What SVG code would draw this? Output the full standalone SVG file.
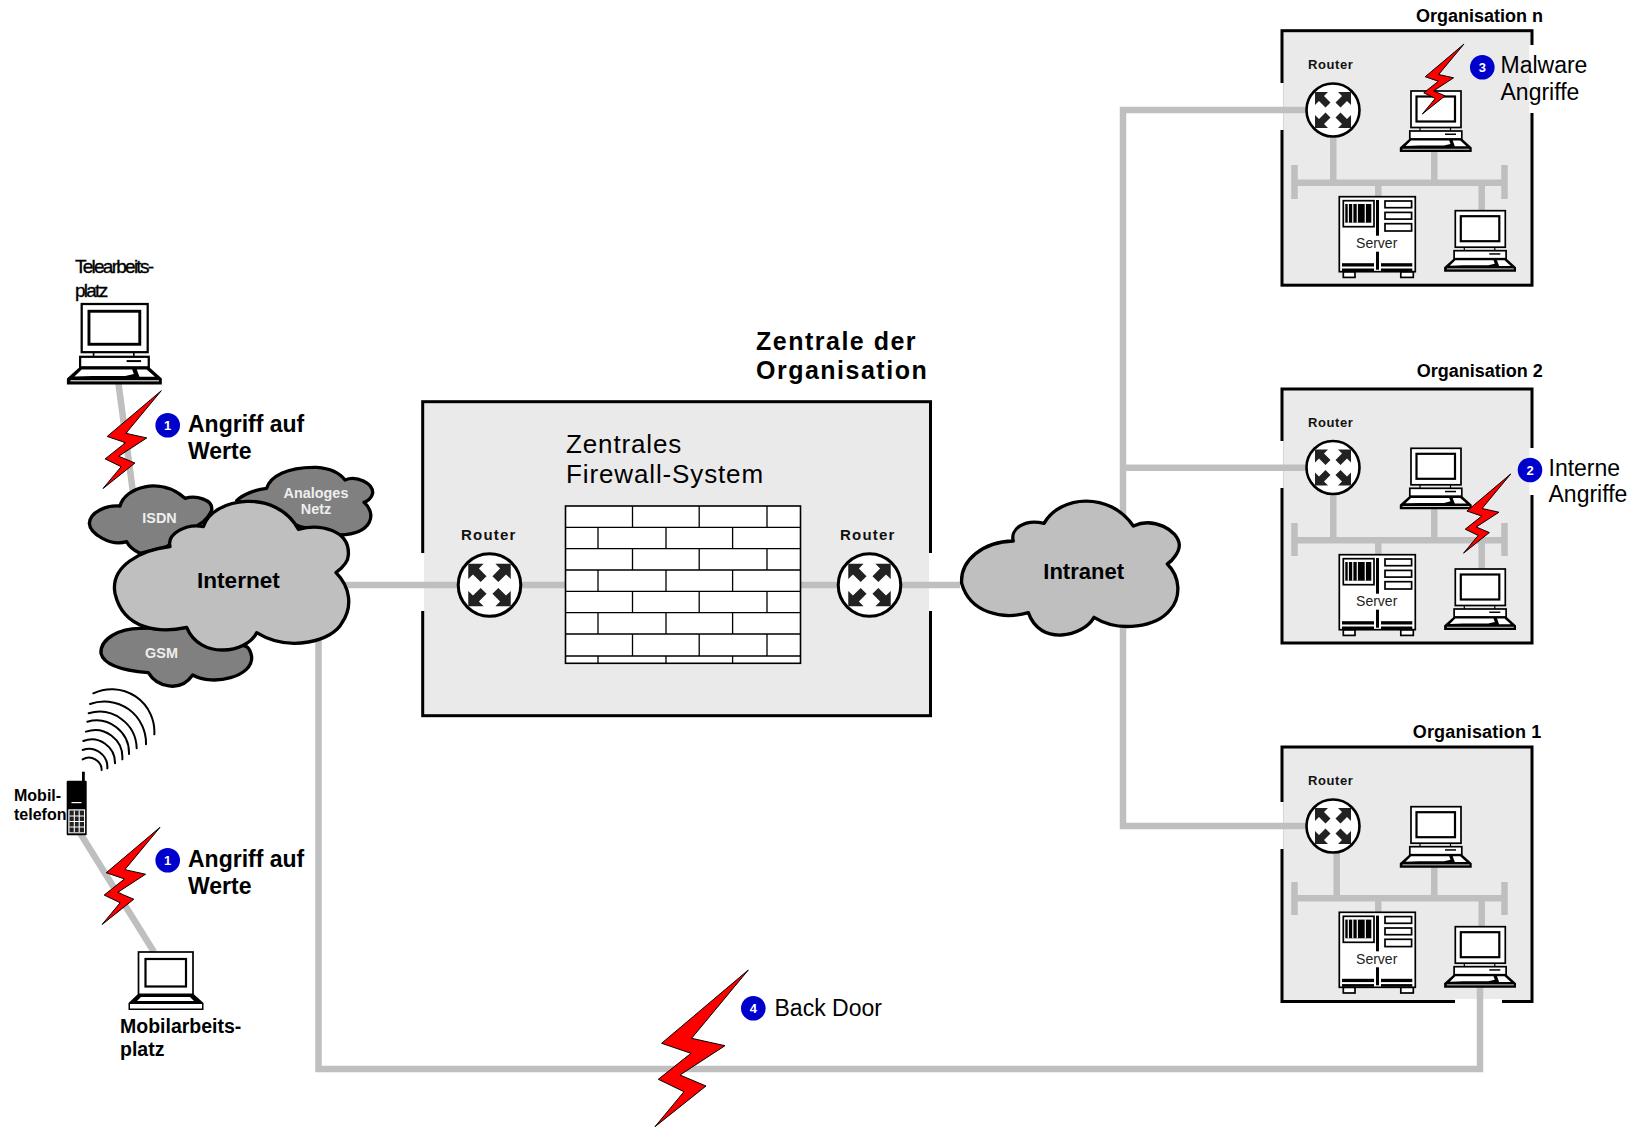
<svg xmlns="http://www.w3.org/2000/svg" xmlns:xlink="http://www.w3.org/1999/xlink" width="1634" height="1127" viewBox="0 0 1634 1127">
<style>
text{font-family:"Liberation Sans",Arial,sans-serif;fill:#000}
.b{font-weight:bold}
.atk{font-weight:bold;font-size:23px}
.reg{font-size:23px}
.org{font-weight:bold;font-size:18px}
.rt{font-weight:bold;font-size:13px;letter-spacing:.6px;fill:#111}
.rtc{font-weight:bold;font-size:15px;letter-spacing:1.2px;fill:#111}
.net{font-weight:bold;font-size:14.4px;fill:#eee;text-anchor:middle}
.srv{font-size:14px;text-anchor:middle;fill:#222}
.badge{font-weight:bold;font-size:13px;fill:#fff;text-anchor:middle}
.box{fill:#eaeaea;stroke:#000;stroke-width:3}
.gap{fill:#fff;stroke:none}
.lnk{fill:none;stroke:#bfbfbf;stroke-width:6.5}
.cl{fill:#bfbfbf;stroke:#000;stroke-width:10;stroke-linejoin:round}
.cd{fill:#808080;stroke:#000;stroke-width:10;stroke-linejoin:round}
.w{fill:#fff;stroke:#000;stroke-width:1.7}
.k{fill:#000;stroke:none}
.wh{fill:#fff;stroke:none}
.dot{fill:#0000cc}
.bolt{fill:#f00;stroke:#000;stroke-width:1;vector-effect:non-scaling-stroke;stroke-linejoin:miter}
.wave{fill:none;stroke:#000;stroke-width:6;stroke-linecap:round}
.brick{fill:none;stroke:#000;stroke-width:1.3}
</style>
<defs>
<polygon id="boltS" class="bolt" points="0,0 -56.7,68.3 -23.3,75.7 -68.3,105 -42.3,116 -93.3,156.7 -64.3,121.7 -90,109.3 -57.3,83.3 -86.7,73.3"/>
<g id="pc">
<rect class="w" x="0" y="0" width="50" height="36.5"/>
<rect class="w" x="5.5" y="5.5" width="38.5" height="25" style="stroke-width:2.2"/>
<path d="M9 36.5V40M39.5 36.5V40" stroke="#000" stroke-width="1.2"/>
<rect class="w" x="-1.2" y="40" width="52" height="8"/>
<rect class="k" x="34" y="42.5" width="11" height="1.5"/>
<polygon class="k" points="-1.2,47.5 50.8,47.5 60.7,56.5 60.7,61 -11.2,61 -11.2,56.5"/>
<polygon class="wh" points="0,49.6 38.2,49.6 39.5,53 33,54.6 8,54.6 -5.5,55"/>
<polygon class="wh" points="41.7,49.6 49.2,49.6 55.5,55.2 43.8,55.2"/>
<rect class="wh" x="-8.5" y="57.8" width="67" height=".8"/>
</g>
<g id="server">
<rect x="4" y="75" width="11.7" height="5.7" class="w"/><rect x="61.5" y="75" width="12.5" height="5.7" class="w"/>
<rect class="w" width="76" height="75"/>
<rect class="w" x="4" y="4" width="30.7" height="26"/>
<rect class="k" x="6" y="7.3" width="26" height="18.7"/>
<path d="M9 7V26M13.5 7V26M18 7V26M26 7V26" stroke="#fff" stroke-width="1.2"/>
<rect class="k" x="36.7" y="3.3" width="3" height="35.7"/><rect class="k" x="36.7" y="55" width="3" height="18"/>
<rect class="w" x="45.7" y="4.3" width="26.6" height="6.7"/><rect class="w" x="45.7" y="15.7" width="26.6" height="6.7"/><rect class="w" x="45.7" y="27" width="26.6" height="7.3"/>
<rect class="k" x="2.7" y="66.5" width="32" height="3.3"/><rect class="k" x="41.7" y="66.5" width="31.3" height="3.3"/>
<rect class="k" x="2.7" y="71.8" width="32" height="2.7"/><rect class="k" x="41.7" y="71.8" width="31.3" height="2.7"/>
</g>
<g id="router">
<circle r="26.5" fill="#fff" stroke="#000" stroke-width="2.6"/>
<g id="arr"><polygon fill="#222" points="-18,-18 -5,-18 -9,-14 -2.5,-7.5 -7.5,-2.5 -14,-9 -18,-5"/></g>
<use xlink:href="#arr" href="#arr" transform="scale(-1,1)"/>
<use xlink:href="#arr" href="#arr" transform="scale(1,-1)"/>
<use xlink:href="#arr" href="#arr" transform="scale(-1,-1)"/>
</g>
</defs>
<rect width="1634" height="1127" fill="#fff"/>

<g id="box-zentrale">
<rect class="box" x="422.7" y="401.7" width="507.8" height="314"/>
<rect class="gap" x="419" y="553" width="5.7" height="58"/>
<rect class="gap" x="929" y="553" width="5" height="58"/>
</g>
<g id="box-org-n">
<rect class="box" x="1282" y="30.7" width="250" height="254.5"/>
<rect class="gap" x="1279" y="83" width="4.7" height="47"/>
<rect class="gap" x="1529.3" y="45" width="8" height="68"/>
</g>
<g id="box-org-2">
<rect class="box" x="1282" y="389" width="250" height="254"/>
<rect class="gap" x="1279" y="441" width="4.7" height="47"/>
<rect class="gap" x="1529.3" y="448" width="6" height="47"/>
</g>
<g id="box-org-1">
<rect class="box" x="1282" y="747" width="250" height="254.5"/>
<rect class="gap" x="1279" y="802" width="4.7" height="47"/>
<rect class="gap" x="1455" y="999" width="47" height="6"/>
</g>

<g id="connectors">
<path class="lnk" d="M118 380L134 500"/>
<path class="lnk" d="M80 833L154 952"/>
<path class="lnk" d="M340 585H960"/>
<path class="lnk" d="M318.5 630V1069H1480V980"/>
<path class="lnk" d="M1330 110H1123V826H1330"/>
<path class="lnk" d="M1123 467.7H1330"/>
<g id="bus-org-n">
<path class="lnk" d="M1294.5 182.7H1504.5M1294.5 165V199M1504.5 165V199M1333.3 137V182.7M1434.3 150V182.7M1378.3 182.7V197M1481.7 182.7V211"/>
</g>
<g id="bus-org-2">
<path class="lnk" d="M1294.5 540.3H1504.5M1294.5 523V556M1504.5 523V556M1333.3 495V540.3M1434.3 508V540.3M1378.3 540.3V555M1481.7 540.3V569"/>
</g>
<g id="bus-org-1">
<path class="lnk" d="M1294.5 898.3H1504.5M1294.5 882V915M1504.5 882V915M1336.7 852V898.3M1434.3 866V898.3M1378.3 898.3V913M1481.7 898.3V927"/>
</g>
</g>

<g id="firewall">
<rect x="565.5" y="506" width="235" height="157.3" fill="#fff" stroke="#000" stroke-width="1.6"/>
<path class="brick" d="M565 527.3H801M565 548.6H801M565 570H801M565 591.3H801M565 612.7H801M565 634H801M565 656H801"/>
<path class="brick" d="M632.5 506V527.3M699.2 506V527.3M767 506V527.3M598 527.3V548.6M666 527.3V548.6M732.6 527.3V548.6M632.5 548.6V570M699.2 548.6V570M767 548.6V570M598 570V591.3M666 570V591.3M732.6 570V591.3M632.5 591.3V612.7M699.2 591.3V612.7M767 591.3V612.7M598 612.7V634M666 612.7V634M732.6 612.7V634M632.5 634V656M699.2 634V656M767 634V656M598 656V663M666 656V663M732.6 656V663"/>
<text x="566" y="453.3" font-size="26" letter-spacing=".87">Zentrales</text>
<text x="566" y="483.3" font-size="26" letter-spacing=".87">Firewall-System</text>
</g>
<g id="zentrale-label">
<text class="b" x="756" y="350" font-size="25" letter-spacing="1.5">Zentrale der</text>
<text class="b" x="756" y="379" font-size="25" letter-spacing="1.5">Organisation</text>
</g>
<g id="router-zentrale-links">
<use xlink:href="#router" href="#router" transform="translate(489.5,585) scale(1.18)"/>
<text class="rtc" x="461" y="540">Router</text>
</g>
<g id="router-zentrale-rechts">
<use xlink:href="#router" href="#router" transform="translate(869.5,585) scale(1.18)"/>
<text class="rtc" x="840" y="540">Router</text>
</g>

<g id="cloud-analog" transform="translate(0,240) scale(.33333)">
<path class="cd" d="M710 782C730 762 770 748 800 745C810 710 860 680 950 682C990 685 1020 700 1035 720C1070 705 1120 730 1118 760C1115 775 1100 785 1092 787C1130 820 1120 880 1020 885L900 860Z"/>
</g>
<text class="net" x="316" y="498.3">Analoges</text><text class="net" x="316" y="514">Netz</text>
<g id="cloud-isdn" transform="translate(0,240) scale(.33333)">
<path class="cd" d="M360 798C375 742 480 708 555 775C590 765 640 780 635 810C630 825 620 835 610 845L500 920L420 940C400 930 385 915 380 905C330 920 270 880 268 850C270 815 320 795 360 798Z"/>
</g>
<text class="net" x="159.5" y="523.3">ISDN</text>
<g id="cloud-gsm" transform="translate(0,240) scale(.33333)">
<path class="cd" d="M420 1165C360 1165 300 1195 303 1240C310 1270 350 1290 445 1298C470 1340 540 1360 578 1305C640 1340 760 1310 755 1250C750 1225 745 1225 740 1220L560 1162Z"/>
</g>
<text class="net" x="161.5" y="658.3">GSM</text>
<g id="cloud-internet">
<path class="cl" transform="translate(0,240) scale(.33333)" d="M510 920C500 880 560 850 610 860C640 770 830 745 895 868C960 850 1050 870 1045 945C1045 965 1025 985 1008 998C1050 1040 1060 1100 1025 1150C1000 1200 870 1240 770 1178C740 1240 600 1260 560 1162C480 1180 370 1170 345 1060C330 980 420 930 510 920Z"/>
<text class="b" x="197" y="588.3" font-size="22.6">Internet</text>
</g>
<g id="cloud-intranet">
<path class="cl" transform="translate(940,480) scale(.33333)" d="M220 183C210 150 250 115 312 130C360 45 510 35 580 138C640 110 715 150 718 195C718 215 700 240 682 252C720 290 725 350 690 390C650 440 540 460 462 412C430 470 300 500 265 398C190 420 90 400 65 310C60 240 130 185 220 183Z"/>
<text class="b" x="1043.3" y="579" font-size="22">Intranet</text>
</g>

<g id="telearbeitsplatz">
<use xlink:href="#pc" href="#pc" transform="translate(81.7,304) scale(1.32)"/>
<text x="75" y="273" font-size="19" letter-spacing="-1.75" stroke="#000" stroke-width=".35">Telearbeits-</text>
<text x="75" y="296.7" font-size="19" letter-spacing="-1.75" stroke="#000" stroke-width=".35">platz</text>
</g>
<g id="mobilarbeitsplatz">
<rect class="w" x="138.5" y="952" width="54.5" height="43"/>
<rect class="w" x="145.5" y="959" width="40.5" height="27.5" style="stroke-width:2.2"/>
<polygon class="k" points="138.5,993.5 193,993.5 203.5,1003 203.5,1010 128.5,1010 128.5,1003"/>
<polygon class="wh" points="141,997 190,997 194,1001 137,1001"/>
<rect class="wh" x="130" y="1004" width="72" height="4.5"/>
<text class="b" x="120" y="1033.3" font-size="19.5">Mobilarbeits-</text>
<text class="b" x="120" y="1055.7" font-size="19.5">platz</text>
</g>
<g id="mobiltelefon">
<rect class="k" x="82" y="771.7" width="2.8" height="10"/>
<rect class="k" x="66.7" y="780.7" width="20" height="54.5" rx="1"/>
<rect class="wh" x="71.5" y="802" width="10" height="1.2"/>
<rect class="wh" x="68.3" y="809.3" width="16.8" height="24"/>
<rect fill="#222" x="69.5" y="810.5" width="14.5" height="21.8"/>
<path d="M69.5 816H84M69.5 821.5H84M69.5 827H84M74.3 810.5V832.3M79.2 810.5V832.3" stroke="#fff" stroke-width="1.1"/>
<text class="b" x="14" y="800.7" font-size="16">Mobil-</text>
<text class="b" x="14" y="819.7" font-size="16">telefon</text>
</g>
<g id="funkwellen" transform="translate(10,680) scale(.33333)">
<path class="wave" d="M218 238A38 38 0 0 1 275 270M218 210A55 55 0 0 1 292 265M220 183A70 70 0 0 1 315 250M228 155A82 82 0 0 1 337 238M232 125A98 98 0 0 1 357 222M236 100A112 112 0 0 1 380 205M240 72A125 125 0 0 1 408 193M250 40A128 128 0 0 1 433 163"/>
</g>

<g id="org-n">
<text class="org" x="1416" y="21.7">Organisation n</text>
<g id="org-n-router"><use xlink:href="#router" href="#router" transform="translate(1333,110)"/><text class="rt" x="1308" y="69">Router</text></g>
<g id="org-n-pc1"><use xlink:href="#pc" href="#pc" transform="translate(1411,91)"/></g>
<g id="org-n-server"><use xlink:href="#server" href="#server" transform="translate(1339.3,196.7)"/><text class="srv" x="1376.7" y="248">Server</text></g>
<g id="org-n-pc2"><use xlink:href="#pc" href="#pc" transform="translate(1455.3,210.7)"/></g>
</g>
<g id="org-2">
<text class="org" x="1416.7" y="377.3">Organisation 2</text>
<g id="org-2-router"><use xlink:href="#router" href="#router" transform="translate(1333,467.5)"/><text class="rt" x="1308" y="426.7">Router</text></g>
<g id="org-2-pc1"><use xlink:href="#pc" href="#pc" transform="translate(1411,448.3)"/></g>
<g id="org-2-server"><use xlink:href="#server" href="#server" transform="translate(1339.3,554.7)"/><text class="srv" x="1376.7" y="606">Server</text></g>
<g id="org-2-pc2"><use xlink:href="#pc" href="#pc" transform="translate(1455.3,569)"/></g>
</g>
<g id="org-1">
<text class="org" x="1412.7" y="738.3" letter-spacing=".2">Organisation 1</text>
<g id="org-1-router"><use xlink:href="#router" href="#router" transform="translate(1333,826)"/><text class="rt" x="1308" y="785">Router</text></g>
<g id="org-1-pc1"><use xlink:href="#pc" href="#pc" transform="translate(1411,806.7)"/></g>
<g id="org-1-server"><use xlink:href="#server" href="#server" transform="translate(1339.3,912.3)"/><text class="srv" x="1376.7" y="964">Server</text></g>
<g id="org-1-pc2"><use xlink:href="#pc" href="#pc" transform="translate(1455.3,926.7)"/></g>
</g>

<g id="attack-1a">
<use xlink:href="#boltS" href="#boltS" transform="translate(161.3,390.7) scale(.624)"/>
<circle class="dot" cx="167.7" cy="425.3" r="12.3"/><text class="badge" x="167.7" y="430">1</text>
<text class="atk" x="188" y="432">Angriff auf</text><text class="atk" x="188" y="459">Werte</text>
</g>
<g id="attack-1b">
<use xlink:href="#boltS" href="#boltS" transform="translate(160,827.3) scale(.62)"/>
<circle class="dot" cx="167.7" cy="860.3" r="12.3"/><text class="badge" x="167.7" y="865">1</text>
<text class="atk" x="188" y="867">Angriff auf</text><text class="atk" x="188" y="893.5">Werte</text>
</g>
<g id="attack-2">
<use xlink:href="#boltS" href="#boltS" transform="translate(1510.7,474) scale(.505)"/>
<circle class="dot" cx="1530" cy="470" r="12.3"/><text class="badge" x="1530" y="474.7">2</text>
<text class="reg" x="1548.5" y="475.7">Interne</text><text class="reg" x="1548.5" y="502">Angriffe</text>
</g>
<g id="attack-3">
<use xlink:href="#boltS" href="#boltS" transform="translate(1464,44) scale(.447)"/>
<circle class="dot" cx="1482.3" cy="67.3" r="12.3"/><text class="badge" x="1482.3" y="72">3</text>
<text class="reg" x="1500.5" y="73">Malware</text><text class="reg" x="1500.5" y="100.3">Angriffe</text>
</g>
<g id="attack-4">
<use xlink:href="#boltS" href="#boltS" transform="translate(748.3,970)"/>
<circle class="dot" cx="753.3" cy="1008.3" r="12.3"/><text class="badge" x="753.3" y="1013">4</text>
<text class="reg" x="774.5" y="1015.7">Back Door</text>
</g>
</svg>
